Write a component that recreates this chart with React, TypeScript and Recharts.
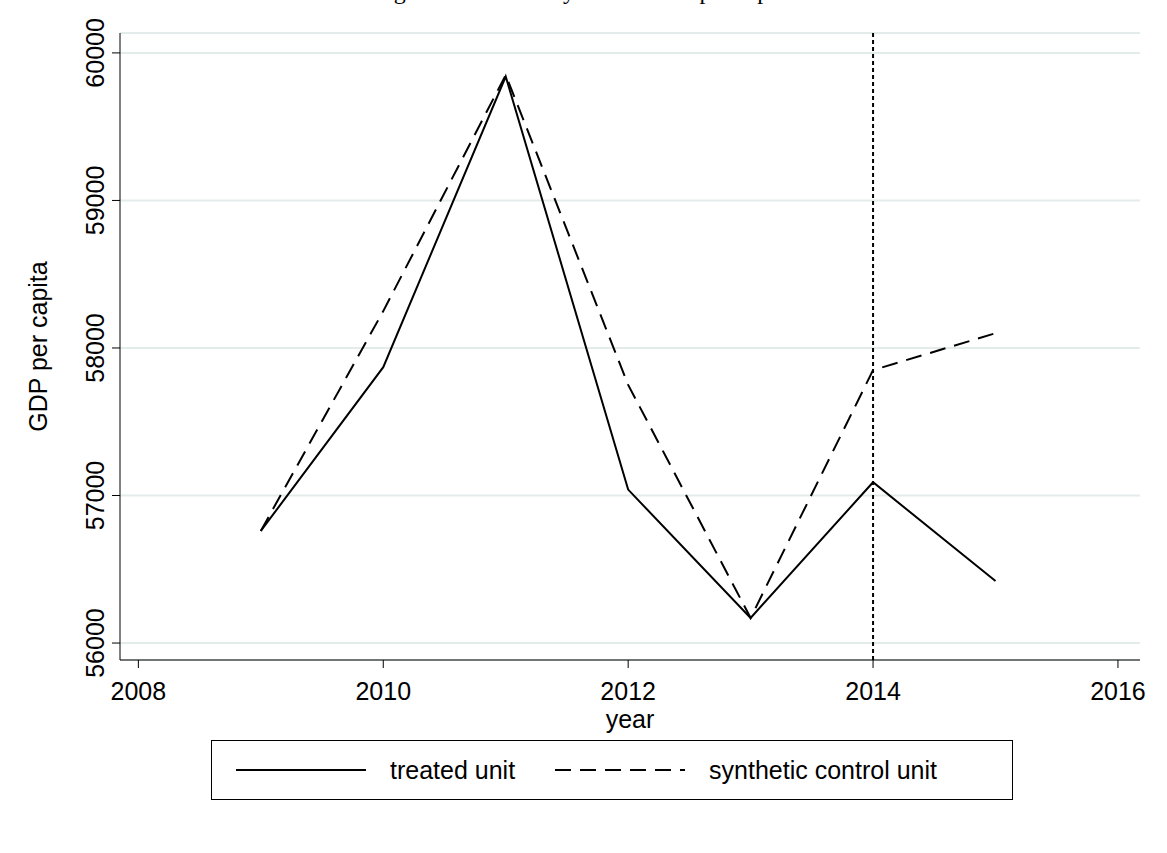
import { ComposedChart, Line, XAxis, YAxis, CartesianGrid, ReferenceLine } from 'recharts';

const years = [2009, 2010, 2011, 2012, 2013, 2014, 2015];
const treated = [56760, 57870, 59840, 57040, 56170, 57090, 56420];
const synthetic = [56760, 58250, 59850, 57750, 56170, 57850, 58100];
const xTicks = [2008, 2010, 2012, 2014, 2016];
const yTicks = [56000, 57000, 58000, 59000, 60000];

const data = years.map((year, i) => ({ year, treated: treated[i], synthetic: synthetic[i] }));

const font = '"Liberation Sans", Arial, sans-serif';

function YTick({ x, y, payload }: any) {
  return (
    <text x={x - 6} y={y} transform={`rotate(-90 ${x - 6} ${y})`} textAnchor="middle" fontSize={25} fontFamily={font} fill="#000">
      {payload.value}
    </text>
  );
}

function XTick({ x, y, payload }: any) {
  return (
    <text x={x} y={y + 30} textAnchor="middle" fontSize={25} fontFamily={font} fill="#000">
      {payload.value}
    </text>
  );
}

export default function App() {
  return (
    <div style={{ position: 'absolute', left: 0, top: 0, width: 1167, height: 853, background: '#fff', overflow: 'hidden' }}>
      <div style={{ position: 'absolute', top: -22, left: 0, width: 1167, textAlign: 'center', fontFamily: '"Liberation Serif", serif', fontSize: 24 }}>
        Figure: treated vs. synthetic GDP per capita
      </div>
      <ComposedChart width={1167} height={853} data={data} margin={{ top: 33, right: 27, bottom: 133, left: 0 }}>
        <CartesianGrid horizontal vertical={false} stroke="#e3ebeb" strokeWidth={2} />
        <XAxis dataKey="year" type="number" domain={[2007.85, 2016.18]} ticks={xTicks} stroke="#000" tickSize={8}
          tick={<XTick />} height={60} allowDataOverflow
          label={{ value: 'year', position: 'insideBottom', offset: -8, fontSize: 25, fontFamily: font, fill: '#000' }} />
        <YAxis type="number" domain={[55885, 60135]} ticks={yTicks} width={120} stroke="#000" tickSize={8} tick={<YTick />} allowDataOverflow
          label={{ value: 'GDP per capita', angle: -90, position: 'insideLeft', offset: 38, fontSize: 25, fontFamily: font, fill: '#000', style: { textAnchor: 'middle' } }} />
        <ReferenceLine x={2014} stroke="#000" strokeWidth={2} strokeDasharray="4 3" />
        <Line dataKey="treated" stroke="#000" strokeWidth={2} dot={false} isAnimationActive={false} />
        <Line dataKey="synthetic" stroke="#000" strokeWidth={2} strokeDasharray="16 9" dot={false} isAnimationActive={false} />
      </ComposedChart>
      <div style={{ position: 'absolute', left: 211, top: 740, width: 800, height: 58, border: '1.5px solid #000', display: 'flex', alignItems: 'center', fontFamily: font, fontSize: 25 }}>
        <svg width={130} height={10} style={{ marginLeft: 24 }}><line x1={0} y1={5} x2={130} y2={5} stroke="#000" strokeWidth={2} /></svg>
        <span style={{ marginLeft: 24 }}>treated unit</span>
        <svg width={130} height={10} style={{ marginLeft: 40 }}><line x1={0} y1={5} x2={130} y2={5} stroke="#000" strokeWidth={2} strokeDasharray="16 9" /></svg>
        <span style={{ marginLeft: 24 }}>synthetic control unit</span>
      </div>
    </div>
  );
}
